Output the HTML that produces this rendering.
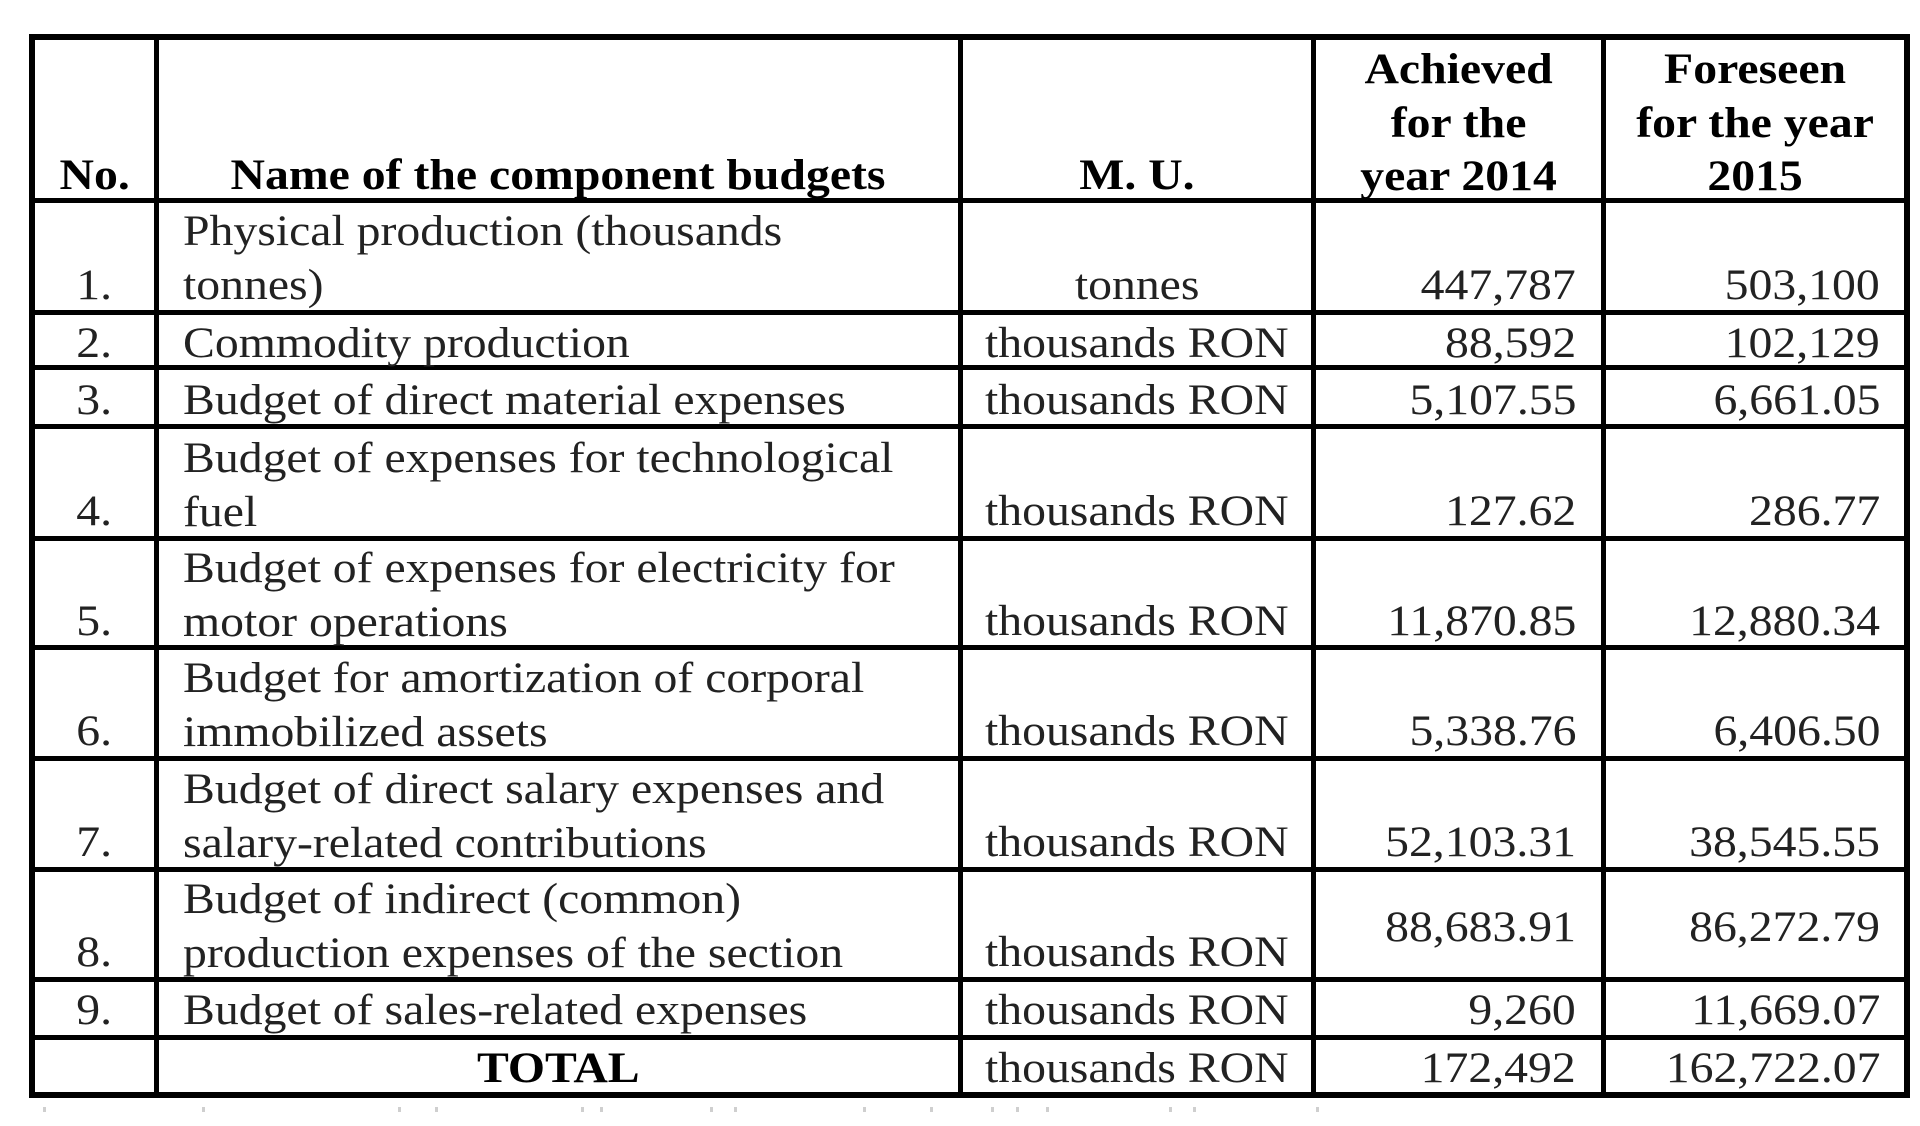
<!DOCTYPE html>
<html>
<head>
<meta charset="utf-8">
<style>
html,body{margin:0;padding:0}
body{width:1920px;height:1126px;background:#fff;position:relative;overflow:hidden;font-family:"Liberation Serif","Times New Roman",serif;font-size:43px;line-height:53.5px;color:#222}
.h,.v{position:absolute;background:#000}
.t{position:absolute;white-space:nowrap;margin-top:2px}
.t span{display:inline-block;transform:scaleX(1.11)}
.c{text-align:center}
.c span{transform-origin:50% 0}
.l span{transform-origin:0 0}
.r{text-align:right}
.r span{transform-origin:100% 0}
.b{font-weight:bold;color:#000}
.m{position:absolute;background:#cfcfcf;width:3px;height:5px;top:1107px}
</style>
</head>
<body>
<!-- horizontal lines -->
<div class="h" style="left:29px;width:1881px;top:34px;height:6px"></div>
<div class="h" style="left:29px;width:1881px;top:198px;height:5px"></div>
<div class="h" style="left:29px;width:1881px;top:310px;height:5px"></div>
<div class="h" style="left:29px;width:1881px;top:365px;height:5px"></div>
<div class="h" style="left:29px;width:1881px;top:424px;height:5px"></div>
<div class="h" style="left:29px;width:1881px;top:536px;height:5px"></div>
<div class="h" style="left:29px;width:1881px;top:645px;height:5px"></div>
<div class="h" style="left:29px;width:1881px;top:756px;height:5px"></div>
<div class="h" style="left:29px;width:1881px;top:867px;height:5px"></div>
<div class="h" style="left:29px;width:1881px;top:977px;height:5px"></div>
<div class="h" style="left:29px;width:1881px;top:1035px;height:5px"></div>
<div class="h" style="left:29px;width:1881px;top:1092px;height:6px"></div>
<!-- vertical lines -->
<div class="v" style="left:29px;width:6px;top:34px;height:1064px"></div>
<div class="v" style="left:154px;width:5px;top:34px;height:1064px"></div>
<div class="v" style="left:958px;width:5px;top:34px;height:1064px"></div>
<div class="v" style="left:1311px;width:5px;top:34px;height:1064px"></div>
<div class="v" style="left:1601px;width:5px;top:34px;height:1064px"></div>
<div class="v" style="left:1904px;width:6px;top:34px;height:1064px"></div>

<!-- header -->
<div class="t c b" style="left:35px;width:119px;top:147px"><span>No.</span></div>
<div class="t c b" style="left:159px;width:799px;top:147px"><span>Name of the component budgets</span></div>
<div class="t c b" style="left:963px;width:348px;top:147px"><span>M. U.</span></div>
<div class="t c b" style="left:1316px;width:285px;top:41px"><span>Achieved<br>for the<br>year 2014</span></div>
<div class="t c b" style="left:1606px;width:298px;top:41px"><span>Foreseen<br>for the year<br>2015</span></div>

<!-- row 1 -->
<div class="t c" style="left:35px;width:119px;top:257px"><span>1.</span></div>
<div class="t l" style="left:183px;top:203px"><span>Physical production (thousands<br>tonnes)</span></div>
<div class="t c" style="left:963px;width:348px;top:257px"><span>tonnes</span></div>
<div class="t r" style="left:1316px;width:260px;top:257px"><span>447,787</span></div>
<div class="t r" style="left:1606px;width:274px;top:257px"><span>503,100</span></div>

<!-- row 2 -->
<div class="t c" style="left:35px;width:119px;top:315px"><span>2.</span></div>
<div class="t l" style="left:183px;top:315px"><span>Commodity production</span></div>
<div class="t c" style="left:963px;width:348px;top:315px"><span>thousands RON</span></div>
<div class="t r" style="left:1316px;width:260px;top:315px"><span>88,592</span></div>
<div class="t r" style="left:1606px;width:274px;top:315px"><span>102,129</span></div>

<!-- row 3 -->
<div class="t c" style="left:35px;width:119px;top:372px"><span>3.</span></div>
<div class="t l" style="left:183px;top:372px"><span>Budget of direct material expenses</span></div>
<div class="t c" style="left:963px;width:348px;top:372px"><span>thousands RON</span></div>
<div class="t r" style="left:1316px;width:260px;top:372px"><span>5,107.55</span></div>
<div class="t r" style="left:1606px;width:274px;top:372px"><span>6,661.05</span></div>

<!-- row 4 -->
<div class="t c" style="left:35px;width:119px;top:483px"><span>4.</span></div>
<div class="t l" style="left:183px;top:430px"><span>Budget of expenses for technological<br>fuel</span></div>
<div class="t c" style="left:963px;width:348px;top:483px"><span>thousands RON</span></div>
<div class="t r" style="left:1316px;width:260px;top:483px"><span>127.62</span></div>
<div class="t r" style="left:1606px;width:274px;top:483px"><span>286.77</span></div>

<!-- row 5 -->
<div class="t c" style="left:35px;width:119px;top:593px"><span>5.</span></div>
<div class="t l" style="left:183px;top:540px"><span>Budget of expenses for electricity for<br>motor operations</span></div>
<div class="t c" style="left:963px;width:348px;top:593px"><span>thousands RON</span></div>
<div class="t r" style="left:1316px;width:260px;top:593px"><span>11,870.85</span></div>
<div class="t r" style="left:1606px;width:274px;top:593px"><span>12,880.34</span></div>

<!-- row 6 -->
<div class="t c" style="left:35px;width:119px;top:703px"><span>6.</span></div>
<div class="t l" style="left:183px;top:650px"><span>Budget for amortization of corporal<br>immobilized assets</span></div>
<div class="t c" style="left:963px;width:348px;top:703px"><span>thousands RON</span></div>
<div class="t r" style="left:1316px;width:260px;top:703px"><span>5,338.76</span></div>
<div class="t r" style="left:1606px;width:274px;top:703px"><span>6,406.50</span></div>

<!-- row 7 -->
<div class="t c" style="left:35px;width:119px;top:814px"><span>7.</span></div>
<div class="t l" style="left:183px;top:761px"><span>Budget of direct salary expenses and<br>salary-related contributions</span></div>
<div class="t c" style="left:963px;width:348px;top:814px"><span>thousands RON</span></div>
<div class="t r" style="left:1316px;width:260px;top:814px"><span>52,103.31</span></div>
<div class="t r" style="left:1606px;width:274px;top:814px"><span>38,545.55</span></div>

<!-- row 8 -->
<div class="t c" style="left:35px;width:119px;top:924px"><span>8.</span></div>
<div class="t l" style="left:183px;top:871px"><span>Budget of indirect (common)<br>production expenses of the section</span></div>
<div class="t c" style="left:963px;width:348px;top:924px"><span>thousands RON</span></div>
<div class="t r" style="left:1316px;width:260px;top:899px"><span>88,683.91</span></div>
<div class="t r" style="left:1606px;width:274px;top:899px"><span>86,272.79</span></div>

<!-- row 9 -->
<div class="t c" style="left:35px;width:119px;top:982px"><span>9.</span></div>
<div class="t l" style="left:183px;top:982px"><span>Budget of sales-related expenses</span></div>
<div class="t c" style="left:963px;width:348px;top:982px"><span>thousands RON</span></div>
<div class="t r" style="left:1316px;width:260px;top:982px"><span>9,260</span></div>
<div class="t r" style="left:1606px;width:274px;top:982px"><span>11,669.07</span></div>

<!-- total -->
<div class="t c b" style="left:159px;width:799px;top:1040px"><span>TOTAL</span></div>
<div class="t c" style="left:963px;width:348px;top:1040px"><span>thousands RON</span></div>
<div class="t r" style="left:1316px;width:260px;top:1040px"><span>172,492</span></div>
<div class="t r" style="left:1606px;width:274px;top:1040px"><span>162,722.07</span></div>

<!-- clipped caption fragments -->
<div class="m" style="left:43px"></div>
<div class="m" style="left:202px"></div>
<div class="m" style="left:398px"></div>
<div class="m" style="left:435px"></div>
<div class="m" style="left:581px"></div>
<div class="m" style="left:600px"></div>
<div class="m" style="left:710px"></div>
<div class="m" style="left:734px"></div>
<div class="m" style="left:863px"></div>
<div class="m" style="left:930px"></div>
<div class="m" style="left:991px"></div>
<div class="m" style="left:1016px"></div>
<div class="m" style="left:1046px"></div>
<div class="m" style="left:1169px"></div>
<div class="m" style="left:1193px"></div>
<div class="m" style="left:1316px"></div>
</body>
</html>
